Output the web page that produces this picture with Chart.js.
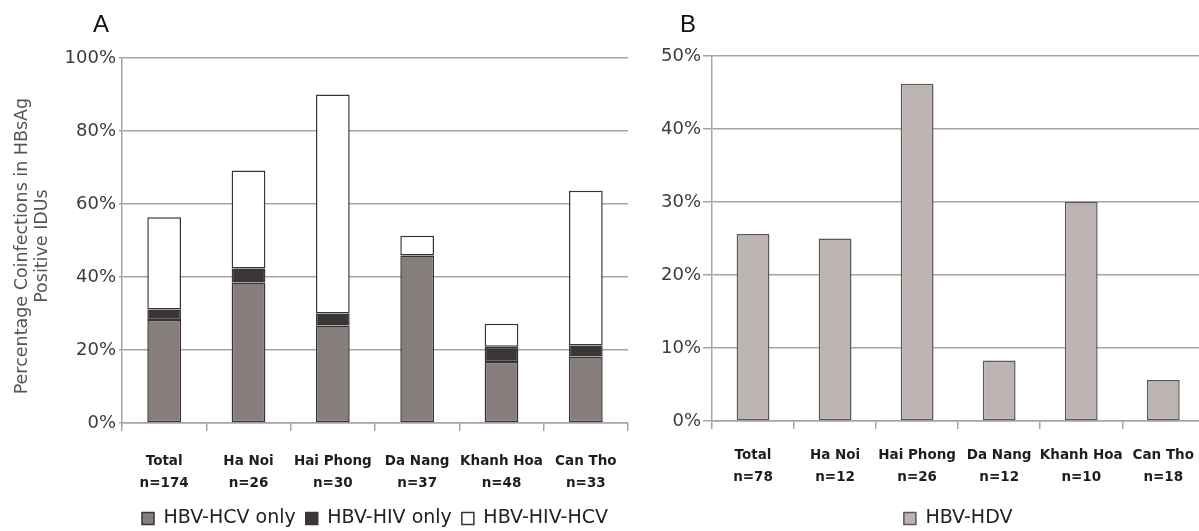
<!DOCTYPE html>
<html>
<head>
<meta charset="utf-8">
<script src="https://cdn.jsdelivr.net/npm/chart.js@4.4.1/dist/chart.umd.min.js"></script>
<style>
  html, body { margin: 0; padding: 0; background: #fff; }
  #wrap { position: relative; width: 1199px; height: 531px; overflow: hidden; }
  canvas { position: absolute; top: 0; }
  #chart-a { left: 0; }
  #chart-b { left: 640px; }
  .panel-letter { position: absolute; top: 12px; font: 24px/24px "Liberation Sans", Arial, sans-serif; color: #111; }
</style>
</head>
<body>
<div id="wrap">
  <canvas id="chart-a" width="640" height="531"></canvas>
  <canvas id="chart-b" width="569" height="531"></canvas>
  <div class="panel-letter" style="left:93px">A</div>
  <div class="panel-letter" style="left:680px">B</div>
</div>
<script>
// panel A: coinfections (%), stacked
const sitesA = ["Total", "Ha Noi", "Hai Phong", "Da Nang", "Khanh Hoa", "Can Tho"];
const sampleSizesA = [174, 26, 30, 37, 48, 33];
const hbvHcvOnly = [28.2, 38.5, 26.7, 45.9, 16.7, 18.2];
const hbvHivOnly = [2.9, 3.8, 3.3, 0, 4.2, 3.0];
const hbvHivHcv = [25.3, 26.9, 60.0, 5.4, 6.3, 42.4];

// panel B: HBV-HDV (%)
const sitesB = ["Total", "Ha Noi", "Hai Phong", "Da Nang", "Khanh Hoa", "Can Tho"];
const sampleSizesB = [78, 12, 26, 12, 10, 18];
const hbvHdv = [25.6, 25.0, 46.2, 8.3, 30.0, 5.6];

const gridColor = "#aaa3a1";
const edgeColor = "#3a3534";

Chart.defaults.font.family = "'DejaVu Sans', sans-serif";
Chart.defaults.color = "#3c3c3c";

// keep the legend strip short so the plot sits where it should
const legendHeight = {
    id: "legendHeight",
    beforeInit(chart) {
        const fit = chart.legend.fit;
        chart.legend.fit = function () {
            fit.call(this);
            this.height = 32;
        };
    }
};

function siteLabels(sites, sizes) {
    return sites.map((s, i) => [s, "n=" + sizes[i]]);
}

function xScale(height, pad) {
    return {
        stacked: true,
        offset: true,
        grid: { offset: true, drawOnChartArea: false, drawTicks: true, tickLength: 8, color: gridColor, lineWidth: 1.5 },
        border: { color: gridColor, width: 1.5 },
        ticks: {
            autoSkip: false, maxRotation: 0, padding: pad, color: "#1e1e1e",
            font: { size: 13.5, weight: "bold", lineHeight: 1.63 }
        },
        afterFit: (scale) => { scale.height = height; }
    };
}

function legendOpts() {
    return {
        position: "bottom",
        fullSize: false,
        labels: { boxWidth: 12, boxHeight: 12, padding: 10, color: "#222", font: { size: 19 } }
    };
}

const commonBar = { borderWidth: 1.5, borderSkipped: false, barPercentage: 0.4, categoryPercentage: 1 };

new Chart(document.getElementById("chart-a"), {
    type: "bar",
    data: {
        labels: siteLabels(sitesA, sampleSizesA),
        datasets: [
            { label: "HBV-HCV only", data: hbvHcvOnly, backgroundColor: "#857e7c", borderColor: edgeColor, ...commonBar },
            { label: "HBV-HIV only", data: hbvHivOnly, backgroundColor: "#3b3636", borderColor: edgeColor, ...commonBar },
            { label: "HBV-HIV-HCV", data: hbvHivHcv, backgroundColor: "#ffffff", borderColor: edgeColor, ...commonBar }
        ]
    },
    options: {
        responsive: false,
        animation: false,
        layout: { padding: { top: 58, right: 12, left: 0, bottom: 0 } },
        plugins: { legend: legendOpts(), tooltip: { enabled: false } },
        scales: {
            x: xScale(76, 19),
            y: {
                stacked: true,
                min: 0, max: 100,
                grid: { color: gridColor, lineWidth: 1.5, drawTicks: true, tickLength: 3 },
                border: { color: gridColor, width: 1.5 },
                ticks: { stepSize: 20, padding: 3, font: { size: 18 }, callback: (v) => v + "%" },
                title: {
                    display: true,
                    text: ["Percentage Coinfections in HBsAg  ", "Positive IDUs  "],
                    color: "#555",
                    font: { size: 17.5, lineHeight: 1.15 },
                    padding: { top: 12, bottom: 0 }
                },
                afterFit: (scale) => { scale.width = 122; }
            }
        }
    },
    plugins: [legendHeight]
});

new Chart(document.getElementById("chart-b"), {
    type: "bar",
    data: {
        labels: siteLabels(sitesB, sampleSizesB),
        datasets: [
            { label: "HBV-HDV", data: hbvHdv, backgroundColor: "#bcb4b2", borderColor: "#5d5857", ...commonBar }
        ]
    },
    options: {
        responsive: false,
        animation: false,
        layout: { padding: { top: 56, right: 0, left: 0, bottom: 0 } },
        plugins: { legend: legendOpts(), tooltip: { enabled: false } },
        scales: {
            x: xScale(78, 15),
            y: {
                min: 0, max: 50,
                grid: { color: gridColor, lineWidth: 1.5, drawTicks: true, tickLength: 9 },
                border: { color: gridColor, width: 1.5 },
                ticks: { stepSize: 10, padding: 2, font: { size: 18 }, callback: (v) => v + "%" },
                afterFit: (scale) => { scale.width = 72; }
            }
        }
    },
    plugins: [legendHeight]
});
</script>
</body>
</html>
